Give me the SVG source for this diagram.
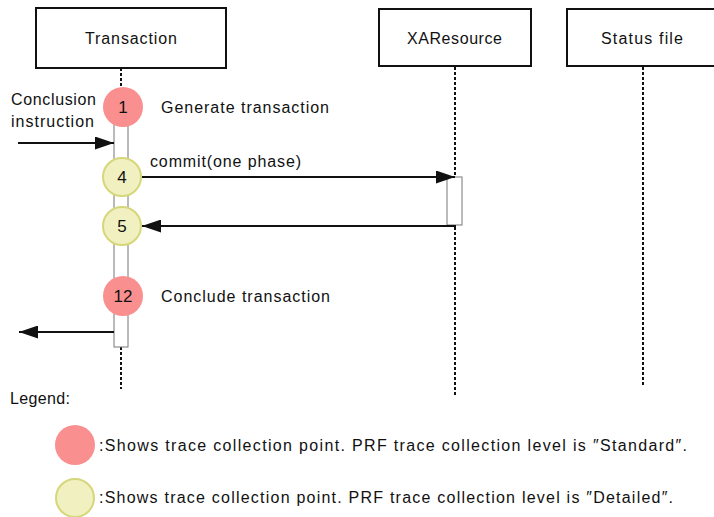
<svg xmlns="http://www.w3.org/2000/svg" width="714" height="517" viewBox="0 0 714 517">
<defs>
<style>
text{font-family:"Liberation Sans","Noto Sans",sans-serif;font-size:16px;fill:#111}
.box{fill:#fff;stroke:#111;stroke-width:2}
.life{stroke:#111;stroke-width:2;stroke-dasharray:3 2;fill:none}
.act{fill:#fff;stroke:#777;stroke-width:1}
.msg{stroke:#111;stroke-width:2;fill:none}
.std{fill:#f98f8f;stroke:none}
.det{fill:#f0f0c0;stroke:#d6d67a;stroke-width:2}
.num{text-anchor:middle;font-size:17px}
</style>
<marker id="ah" markerWidth="19" markerHeight="13" refX="19" refY="6.5" orient="auto" markerUnits="userSpaceOnUse">
<path d="M0,0 L19,6.5 L0,13 Z" fill="#111"/>
</marker>
</defs>
<rect width="714" height="517" fill="#fff"/>
<g id="lifelines">
<line class="life" x1="121" y1="68" x2="121" y2="100"/>
<line class="life" x1="121" y1="347" x2="121" y2="389"/>
<line class="life" x1="455" y1="67" x2="455" y2="395"/>
<line class="life" x1="643" y1="67" x2="643" y2="385"/>
</g>
<g id="node-transaction"><rect class="box" x="36" y="8" width="190" height="60"/><text x="85" y="44" textLength="92">Transaction</text></g>
<g id="node-xaresource"><rect class="box" x="379" y="9" width="152" height="57"/><text x="407" y="44" textLength="95">XAResource</text></g>
<g id="node-status"><rect class="box" x="567" y="9" width="152" height="57"/><text x="601" y="44" textLength="82">Status  file</text></g>
<g id="activations">
<rect class="act" x="114" y="110" width="14" height="237"/>
<rect class="act" x="447" y="177" width="15" height="48"/>
</g>
<g id="connectors">
<line class="msg" x1="18" y1="143" x2="114" y2="143" marker-end="url(#ah)"/>
<line class="msg" x1="142" y1="177" x2="455" y2="177" marker-end="url(#ah)"/>
<line class="msg" x1="456" y1="226" x2="142" y2="226" marker-end="url(#ah)"/>
<line class="msg" x1="114" y1="332" x2="19" y2="332" marker-end="url(#ah)"/>
</g>
<g id="labels">
<text x="11" y="105" textLength="85">Conclusion</text>
<text x="11" y="127" textLength="83">instruction</text>
<text x="161" y="113" textLength="168">Generate  transaction</text>
<text x="150" y="167" textLength="151">commit(one  phase)</text>
<text x="161" y="302" textLength="169">Conclude  transaction</text>
</g>
<g id="point-1"><circle class="std" cx="123" cy="107" r="20"/><text class="num" x="123" y="113">1</text></g>
<g id="point-4"><circle class="det" cx="122" cy="177" r="19"/><text class="num" x="122" y="183">4</text></g>
<g id="point-5"><circle class="det" cx="122" cy="226" r="19"/><text class="num" x="122" y="232">5</text></g>
<g id="point-12"><circle class="std" cx="123" cy="296" r="20"/><text class="num" x="123" y="302">12</text></g>
<g id="legend">
<text x="10" y="404" textLength="60">Legend:</text>
<ellipse class="std" cx="75" cy="445" rx="20" ry="20"/>
<text x="99" y="451" textLength="588">:Shows  trace  collection  point.  PRF  trace  collection  level  is  ″Standard″.</text>
<ellipse class="det" cx="75" cy="498" rx="19" ry="19"/>
<text x="99" y="503" textLength="574">:Shows  trace  collection  point.  PRF  trace  collection  level  is  ″Detailed″.</text>
</g>
</svg>
